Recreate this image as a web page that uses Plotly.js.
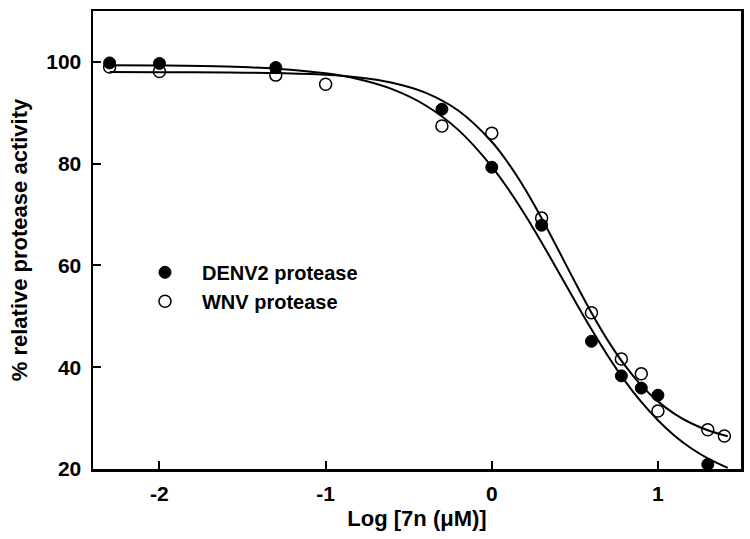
<!DOCTYPE html>
<html>
<head>
<meta charset="utf-8">
<script src="https://cdn.plot.ly/plotly-3.0.1.min.js"></script>
<style>html,body{margin:0;padding:0;background:#fff;}#chart{width:750px;height:539px;}</style>
</head>
<body>
<div id="chart"></div>
<script>
// Measured points (log concentration, % activity)
var denvX = [-2.3, -2.0, -1.3, -0.3, 0.0, 0.3, 0.6, 0.78, 0.9, 1.0, 1.3];
var denvY = [99.8, 99.7, 98.9, 90.7, 79.3, 67.9, 45.1, 38.3, 35.9, 34.5, 20.9];
var wnvX = [-2.3, -2.0, -1.3, -1.0, -0.3, 0.0, 0.3, 0.6, 0.78, 0.9, 1.0, 1.3, 1.4];
var wnvY = [99.0, 98.1, 97.4, 95.6, 87.4, 86.0, 69.3, 50.7, 41.6, 38.7, 31.4, 27.7, 26.5];

// Fitted curves
var curveX = [-2.3, -2.0, -1.6, -1.3, -1.0, -0.8, -0.6, -0.4, -0.2, 0.0, 0.1, 0.2, 0.3, 0.4, 0.5, 0.6, 0.7, 0.8, 0.9, 1.0, 1.1, 1.2, 1.3, 1.42];
var denvFit = [99.35, 99.29, 99.08, 98.66, 97.75, 96.58, 94.64, 91.48, 86.59, 79.44, 74.97, 69.96, 64.51, 58.82, 53.05, 47.44, 42.16, 37.38, 33.17, 29.57, 26.55, 24.08, 22.09, 20.23];
var wnvFit = [98.0, 97.98, 97.93, 97.80, 97.46, 96.93, 95.91, 93.96, 90.40, 84.31, 80.06, 75.03, 69.29, 63.09, 56.78, 50.70, 45.17, 40.40, 36.44, 33.29, 30.84, 28.99, 27.62, 26.44];

var xTicks = [-2, -1, 0, 1];
var yTicks = [20, 40, 60, 80, 100];
var seriesNames = ["DENV2 protease", "WNV protease"];
var xTitle = "Log [7n (μM)]";
var yTitle = "% relative protease activity";

var FONT = "Liberation Sans, Arial, Helvetica, sans-serif";

var traces = [
  {x: curveX, y: denvFit, mode: "lines", line: {color: "#000", width: 2, shape: "spline"}, showlegend: false, hoverinfo: "skip"},
  {x: curveX, y: wnvFit, mode: "lines", line: {color: "#000", width: 2, shape: "spline"}, showlegend: false, hoverinfo: "skip"},
  {x: denvX, y: denvY, mode: "markers", name: seriesNames[0],
   marker: {symbol: "circle", size: 12, color: "#000", line: {color: "#000", width: 1}}},
  {x: wnvX, y: wnvY, mode: "markers", name: seriesNames[1],
   marker: {symbol: "circle-open", size: 12, color: "#000", line: {color: "#000", width: 1.5}}}
];

var layout = {
  width: 750, height: 539,
  margin: {l: 93, r: 9, t: 11, b: 70},
  paper_bgcolor: "#fff", plot_bgcolor: "#fff",
  font: {family: FONT, color: "#000", size: 20},
  showlegend: true,
  legend: {x: 0.054, y: 0.472, xanchor: "left", yanchor: "top", itemwidth: 64,
    font: {family: FONT, size: 20, weight: "bold", color: "#000"},
    bgcolor: "rgba(0,0,0,0)", borderwidth: 0, tracegroupgap: 0},
  xaxis: {
    range: [-2.4, 1.5], tickvals: xTicks, ticktext: xTicks.map(String),
    ticks: "inside", ticklen: 8, tickwidth: 2, tickcolor: "#000",
    showline: true, linewidth: 2.5, linecolor: "#000", mirror: true,
    showgrid: false, zeroline: false, ticklabelstandoff: 4,
    tickfont: {family: FONT, size: 21, weight: "bold"},
    title: {text: xTitle, font: {family: FONT, size: 22, weight: "bold"}, standoff: 7}
  },
  yaxis: {
    range: [20, 110], tickvals: yTicks, ticktext: yTicks.map(String),
    ticks: "inside", ticklen: 8, tickwidth: 2, tickcolor: "#000",
    showline: true, linewidth: 2.5, linecolor: "#000", mirror: true,
    showgrid: false, zeroline: false, ticklabelstandoff: 5,
    tickfont: {family: FONT, size: 21, weight: "bold"},
    title: {text: yTitle, font: {family: FONT, size: 22, weight: "bold"}, standoff: 13}
  }
};

Plotly.newPlot("chart", traces, layout, {displayModeBar: false, staticPlot: true});
</script>
</body>
</html>
